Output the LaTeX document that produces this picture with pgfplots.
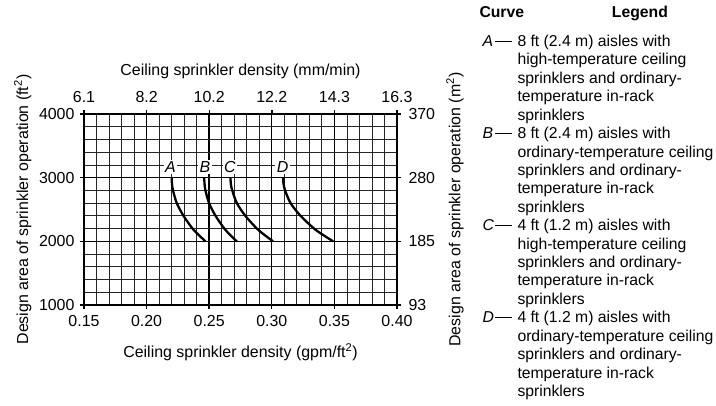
\documentclass[border=0pt]{standalone}
\usepackage{fontspec}
\setmainfont{Liberation Sans}
\usepackage{pgfplots}
\pgfplotsset{compat=1.18}
\pgfplotsset{
  every axis/.append style={
    tick label style={font=\fontsize{16}{19}\selectfont},
    label style={font=\fontsize{16}{19}\selectfont},
  },
}

\begin{document}
\begin{tikzpicture}[font=\fontsize{15.8}{18.4}\selectfont]
\useasboundingbox (-84bp,-101bp) rectangle (632bp,305bp);

% main axis: gpm/ft2 against ft2
\begin{axis}[
    name=main,
    scale only axis,
    width=313bp, height=191bp,
    xmin=0.15, xmax=0.40, ymin=1000, ymax=4000,
    xtick={0.15,0.20,0.25,0.30,0.35,0.40},
    xticklabels={0.15,0.20,0.25,0.30,0.35,0.40},
    ytick={1000,2000,3000,4000},
    yticklabels={1000,2000,3000,4000},
    minor x tick num=4, minor y tick num=4,
    grid=both,
    major grid style={black, line width=1.4bp},
    minor grid style={black!85, line width=0.8bp},
    axis line style={line width=1.5bp},
    tick align=outside, major tick length=4bp, minor tick length=0pt,
    tick style={black, line width=1.4bp},
    xtick pos=lower, ytick pos=left,
    /pgf/number format/assume math mode=true,
    xticklabel style={yshift=-3bp},
    yticklabel style={xshift=-2bp},
    xlabel={Ceiling sprinkler density (gpm/ft\textsuperscript{2})},
    ylabel={Design area of sprinkler operation (ft\textsuperscript{2})},
    xlabel style={at={(axis description cs:0.5,-0.246)}, anchor=center},
    ylabel style={at={(axis description cs:-0.196,0.5)}, anchor=center},
]
\addplot[black, line width=2.3bp, smooth] coordinates {
  (0.2200,3000) (0.2203,2900) (0.2211,2800) (0.2241,2600) (0.2295,2400)
  (0.2367,2200) (0.2416,2100) (0.2470,2000)};
\addplot[black, line width=2.3bp, smooth] coordinates {
  (0.2460,3000) (0.2463,2900) (0.2470,2800) (0.2499,2600) (0.2551,2400)
  (0.2621,2200) (0.2668,2100) (0.2720,2000)};
\addplot[black, line width=2.3bp, smooth] coordinates {
  (0.2670,3000) (0.2673,2900) (0.2684,2800) (0.2721,2600) (0.2789,2400)
  (0.2881,2200) (0.2942,2100) (0.3010,2000)};
\addplot[black, line width=2.3bp, smooth] coordinates {
  (0.3090,3000) (0.3094,2900) (0.3106,2800) (0.3150,2600) (0.3230,2400)
  (0.3338,2200) (0.3410,2100) (0.3490,2000)};

\node[fill=white, inner sep=1.5bp, font=\fontsize{16}{19}\selectfont\itshape] at (axis cs:0.2190,3170) {A};
\node[fill=white, inner sep=1.5bp, font=\fontsize{16}{19}\selectfont\itshape] at (axis cs:0.2466,3170) {B};
\node[fill=white, inner sep=1.5bp, font=\fontsize{16}{19}\selectfont\itshape] at (axis cs:0.2666,3170) {C};
\node[fill=white, inner sep=1.5bp, font=\fontsize{16}{19}\selectfont\itshape] at (axis cs:0.3087,3170) {D};
\end{axis}

% metric scales on top and right
\begin{axis}[
    scale only axis,
    width=313bp, height=191bp,
    xmin=0.15, xmax=0.40, ymin=1000, ymax=4000,
    axis x line*=top, axis y line*=right,
    xtick={0.15,0.20,0.25,0.30,0.35,0.40},
    xticklabels={6.1,8.2,10.2,12.2,14.3,16.3},
    ytick={1000,2000,3000,4000},
    yticklabels={93,185,280,370},
    axis line style={line width=1.5bp},
    tick align=outside, major tick length=4bp,
    tick style={black, line width=1.4bp},
    /pgf/number format/assume math mode=true,
    xticklabel style={yshift=4bp},
    yticklabel style={xshift=4bp},
    xlabel={Ceiling sprinkler density (mm/min)},
    ylabel={Design area of sprinkler operation (m\textsuperscript{2})},
    xlabel style={at={(axis description cs:0.5,1.225)}, anchor=center},
    ylabel style={at={(axis description cs:1.185,0.5)}, anchor=center},
]
\addplot[draw=none] coordinates {(0.15,1000) (0.40,4000)};
\end{axis}

% legend text
\node[anchor=base west, inner sep=0pt, font=\fontsize{15.8}{18.4}\selectfont\bfseries] at (395.3bp,287.7bp) {Curve};
\node[anchor=base west, inner sep=0pt, font=\fontsize{15.8}{18.4}\selectfont\bfseries] at (527.7bp,287.7bp) {Legend};
\foreach \t [count=\i from 0] in {
  {8 ft (2.4 m) aisles with}, {high-temperature ceiling}, {sprinklers and ordinary-}, {temperature in-rack}, {sprinklers},
  {8 ft (2.4 m) aisles with}, {ordinary-temperature ceiling}, {sprinklers and ordinary-}, {temperature in-rack}, {sprinklers},
  {4 ft (1.2 m) aisles with}, {high-temperature ceiling}, {sprinklers and ordinary-}, {temperature in-rack}, {sprinklers},
  {4 ft (1.2 m) aisles with}, {ordinary-temperature ceiling}, {sprinklers and ordinary-}, {temperature in-rack}, {sprinklers}}
  \node[anchor=base west, inner sep=0pt] at (433.3bp,{258.5bp-\i*18.42bp}) {\t};
\foreach \l [count=\i from 0] in {A,B,C,D} {
  \node[anchor=base west, inner sep=0pt] at (398.3bp,{258.5bp-\i*5*18.42bp}) {\textit{\l}};
  \node[anchor=base west, inner sep=0pt] at (411bp,{258.5bp-\i*5*18.42bp}) {\rule[4.8bp]{17bp}{1.1bp}};
}
\end{tikzpicture}
\end{document}
